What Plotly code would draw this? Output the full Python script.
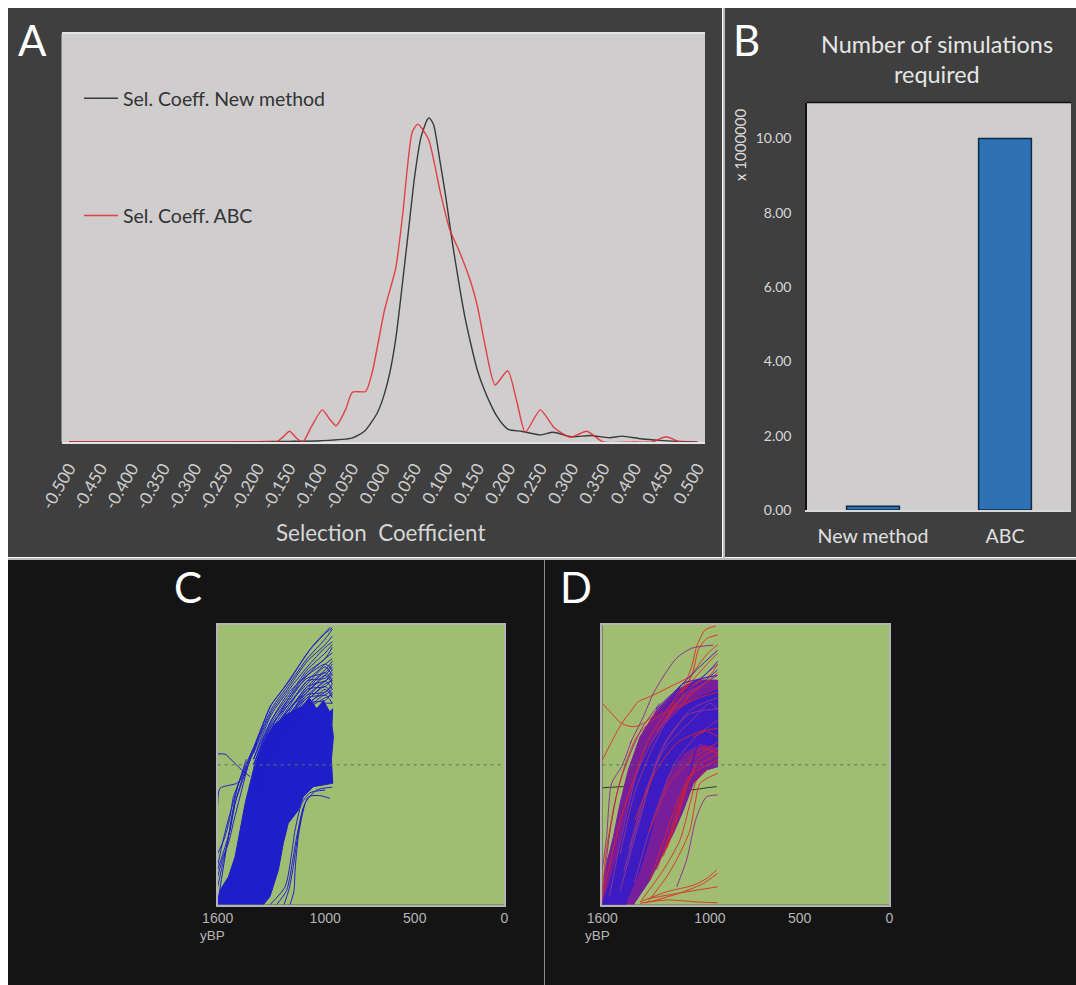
import plotly.graph_objects as go

# ---------- Panel A: density curves ----------
TICK_VALUES = [-0.5, -0.45, -0.4, -0.35, -0.3, -0.25, -0.2, -0.15, -0.1, -0.05, 0.0,
               0.05, 0.1, 0.15, 0.2, 0.25, 0.3, 0.35, 0.4, 0.45, 0.5]
NEW_X = [-0.5, -0.3, -0.2, -0.15, -0.1, -0.05, -0.03, -0.01, 0, 0.01, 0.02, 0.03, 0.04, 0.05, 0.06,
         0.07, 0.073, 0.08, 0.09, 0.1, 0.11, 0.12, 0.13, 0.14, 0.15, 0.16, 0.17, 0.18, 0.19, 0.2,
         0.22, 0.25, 0.27, 0.3, 0.33, 0.36, 0.38, 0.41, 0.44, 0.47, 0.5]
NEW_Y = [0, 0, 0.001, 0.002, 0.004, 0.012, 0.033, 0.088, 0.137, 0.21, 0.32, 0.48, 0.65, 0.82, 0.94,
         0.995, 1.0, 0.98, 0.87, 0.75, 0.615, 0.495, 0.385, 0.297, 0.22, 0.165, 0.12, 0.082, 0.055, 0.038,
         0.033, 0.022, 0.03, 0.016, 0.02, 0.013, 0.018, 0.01, 0.005, 0.002, 0]
ABC_X = [-0.5, -0.3, -0.18, -0.17, -0.16, -0.149, -0.138, -0.128, -0.115, -0.097, -0.085, -0.075, -0.06,
         -0.049, -0.028, -0.017, 0.002, 0.02, 0.031, 0.046, 0.055, 0.072, 0.091, 0.106, 0.12, 0.139, 0.15,
         0.161, 0.178, 0.198, 0.213, 0.226, 0.25, 0.272, 0.298, 0.324, 0.35, 0.4, 0.428, 0.45, 0.473, 0.5]
ABC_Y = [0, 0, 0, 0, 0.015, 0.033, 0.012, 0, 0.045, 0.099, 0.07, 0.05, 0.1,
         0.154, 0.156, 0.22, 0.407, 0.538, 0.703, 0.956, 0.981, 0.934, 0.769, 0.654, 0.593, 0.495, 0.418,
         0.308, 0.176, 0.22, 0.121, 0.03, 0.099, 0.044, 0.015, 0.033, 0, 0, 0, 0.016, 0, 0]

# ---------- Panel B: bars ----------
METHODS = ["New method", "ABC"]
SIMULATIONS = [0.1, 10.0]
SIM_TICKS = [0, 2, 4, 6, 8, 10]

# ---------- Panel C: trajectories (yBP, frequency) ----------
TIME_TICKS = [1600, 1000, 500, 0]
C_CORE_T = [1600, 1600, 1587, 1540, 1503, 1475, 1447, 1401, 1345, 1289, 1215, 1160, 1122, 1090, 1047, 1010, 975, 958, 962, 954, 965, 958,
            1066, 1122, 1150, 1206, 1234, 1261, 1308, 1345]
C_CORE_F = [0, 0.005, 0.052, 0.10, 0.172, 0.267, 0.362, 0.482, 0.577, 0.64, 0.68, 0.70, 0.71, 0.74, 0.70, 0.73, 0.69, 0.70, 0.64, 0.60, 0.52, 0.434,
            0.422, 0.386, 0.338, 0.291, 0.219, 0.124, 0.029, 0]
C_FAN_T = [1400, 1300, 1200, 1100, 1000, 960]
C_FAN = [
    [.56, .715, .80, .90, .97, .99], [.55, .70, .79, .88, .95, .985], [.54, .69, .78, .87, .93, .96],
    [.52, .68, .77, .85, .92, .94], [.52, .66, .75, .84, .90, .93], [.50, .65, .74, .83, .88, .92],
    [.50, .64, .73, .82, .88, .90], [.48, .64, .72, .80, .86, .88], [.47, .62, .70, .78, .84, .87],
    [.45, .60, .70, .76, .82, .85], [.44, .60, .68, .75, .80, .83], [.42, .58, .66, .73, .79, .80],
    [.40, .58, .66, .72, .76, .78], [.38, .56, .64, .70, .74, .75], [.36, .54, .64, .68, .72, .72],
    [.50, .66, .76, .82, .86, .84], [.49, .63, .74, .81, .83, .86], [.46, .62, .72, .79, .85, .82],
    [.45, .61, .71, .80, .81, .84], [.43, .60, .70, .77, .83, .80], [.44, .59, .69, .78, .80, .82],
    [.41, .59, .68, .76, .82, .79], [.40, .57, .67, .77, .78, .81], [.39, .57, .68, .74, .80, .77],
    [.38, .56, .66, .75, .76, .79], [.37, .55, .66, .73, .78, .75], [.37, .55, .65, .74, .75, .77],
    [.35, .54, .65, .71, .77, .74], [.34, .53, .63, .72, .73, .76], [.33, .52, .62, .70, .75, .72],
]
C_PATHS = [
    ([1600, 1540, 1494, 1420, 1364, 1308, 1252, 1150, 1066, 972], [.005, .243, .386, .529, .613, .708, .756, .851, .928, .992]),
    ([1600, 1559, 1513, 1466, 1420], [.539, .538, .511, .482, .458]),
    ([1600, 1587, 1494, 1457, 1420, 1373], [.356, .416, .434, .458, .517, .60]),
    ([1600, 1559, 1531, 1512, 1466, 1401], [.183, .243, .315, .386, .458, .553]),
    ([1600, 1531, 1503, 1447, 1382], [.124, .267, .362, .469, .577]),
    ([1600, 1540, 1522, 1484, 1401], [.064, .243, .315, .434, .56]),
    ([1196, 1174, 1168, 1150, 1122, 1094, 1029, 973], [0, .05, .124, .243, .338, .386, .39, .38]),
    ([1308, 1224, 1187, 1168, 1131, 1085, 1000], [0, .064, .184, .267, .362, .40, .41]),
    ([1271, 1215, 1181, 1159, 1113, 1047, 960], [0, .052, .16, .243, .362, .41, .42]),
    ([1230, 1200, 1175, 1150, 1120], [0, .06, .15, .26, .35]),
    ([1600, 1570, 1540, 1510, 1470, 1430], [.10, .17, .22, .30, .40, .50]),
    ([1600, 1580, 1555, 1525, 1490, 1440], [.14, .20, .27, .34, .42, .52]),
    ([1070, 1020, 960], [.43, .43, .45]),
    ([1060, 1010, 958], [.46, .47, .44]),
]

# ---------- Panel D: trajectories (yBP, frequency) ----------
D_WIDE_T = [1600, 1585, 1538, 1501, 1455, 1390, 1297, 1185, 1074, 957, 957, 1018, 1092, 1148, 1204, 1260, 1334, 1427]
D_WIDE_F = [0, .124, .243, .362, .482, .60, .696, .768, .803, .803, .493, .482, .434, .338, .255, .184, .088, 0]
D_CORE_T = [1600, 1566, 1511, 1473, 1427, 1353, 1260, 1148, 1055, 957, 957, 1055, 1148, 1241, 1297, 1334, 1390, 1473]
D_CORE_F = [0, .064, .184, .303, .422, .553, .636, .708, .744, .768, .565, .577, .541, .458, .338, .243, .124, 0]
D_DARK = [([1600, 1483, 1300, 1111, 1018, 962], [.418, .422, .42, .41, .418, .422])]
D_RED = [
    ([1600, 1500, 1334, 1148, 1102, 1074, 1027, 968], [.02, .30, .60, .78, .851, .923, .982, .996]),
    ([1300, 1150, 1092, 1065, 1018, 957], [.62, .75, .839, .911, .952, .964]),
    ([1250, 1120, 1060, 1010, 957], [.66, .80, .86, .90, .93]),
    ([1200, 1100, 1030, 957], [.72, .80, .85, .90]),
    ([1600, 1538, 1492, 1436, 1399, 1334, 1204, 1111], [.517, .595, .648, .696, .726, .744, .785, .815]),
    ([1600, 1548, 1492, 1427, 1371, 1278], [.72, .684, .648, .636, .648, .696]),
    ([1390, 1241, 1092, 1018, 962], [.01, .046, .07, .094, .124]),
    ([1334, 1148, 1037, 957], [.01, .046, .076, .112]),
    ([1334, 1185, 1074, 957], [.023, .04, .052, .064]),
    ([1390, 1241, 1074, 957], [.005, .017, .01, .007]),
    ([1353, 1241, 1167, 1111, 1083, 1055, 957], [.005, .10, .184, .267, .362, .434, .47]),
    ([1380, 1260, 1167, 1111, 1074, 1018], [.017, .124, .231, .362, .445, .482]),
    ([1334, 1250, 1185, 1111], [.088, .243, .362, .469]),
    ([1297, 1223, 1158, 1092, 957], [.124, .255, .386, .469, .517]),
    ([1260, 1195, 1139, 1074, 957], [.172, .291, .41, .494, .536]),
    ([1240, 1170, 1120, 1060, 957], [.20, .33, .44, .52, .56]),
    ([1600, 1576, 1529, 1473, 1408, 1320, 1200, 1060, 957], [.05, .20, .37, .50, .60, .66, .70, .74, .76]),
    ([1420, 1300, 1180, 1050, 957], [.30, .48, .58, .62, .63]),
    ([1340, 1220, 1100, 957], [.26, .44, .52, .58]),
    ([1150, 1060, 1000, 957], [.72, .80, .82, .86]),
    ([1180, 1090, 1010, 957], [.70, .76, .80, .83]),
    ([1090, 1020, 957], [.60, .62, .60]),
    ([1120, 1040, 957], [.52, .56, .54]),
]
D_PURPLE = [
    ([1445, 1371, 1315, 1187, 1102, 981], [.577, .672, .756, .881, .917, .928]),
    ([1185, 1130, 1074, 1018, 957], [.064, .16, .315, .386, .392]),
    ([1600, 1576, 1548, 1492, 1436], [.125, .243, .434, .494, .589]),
    ([1600, 1560, 1510, 1450, 1380, 1280], [.02, .25, .42, .53, .63, .72]),
    ([1560, 1500, 1400, 1250, 1100, 957], [.03, .22, .48, .66, .78, .86]),
    ([1480, 1380, 1250, 1100, 957], [.12, .34, .58, .70, .74]),
    ([1420, 1320, 1200, 1080, 957], [.08, .30, .50, .60, .66]),
    ([1500, 1400, 1280, 1120, 957], [.05, .28, .54, .68, .70]),
    ([1500, 1420, 1320, 1180, 1060, 957], [.18, .40, .56, .72, .78, .82]),
    ([1450, 1350, 1250, 1100, 1000, 957], [.20, .42, .56, .66, .72, .70]),
]
D_BLUE = [
    ([1300, 1185, 1074, 957], [.70, .77, .84, .91]),
    ([1260, 1150, 1050, 957], [.69, .79, .81, .87]),
    ([1300, 1170, 1030, 957], [.68, .75, .80, .84]),
    ([1120, 1060, 957], [.46, .58, .68]),
    ([1200, 1080, 957], [.72, .80, .82]),
]

# ---------- Layout helpers ----------
W, H = 1076, 985
def fx(p): return p / W
def fy(p): return 1 - p / H

def group(paths):
    xs, ys = [], []
    for a, b in paths:
        xs += list(a) + [None]
        ys += list(b) + [None]
    return xs, ys

fig = go.Figure()

# Panel A
fig.add_trace(go.Scatter(x=NEW_X, y=NEW_Y, mode="lines", name="Sel. Coeff. New method", legendgroup="a", cliponaxis=False,
                         line=dict(color="#3a3a3a", width=1.4, shape="spline", smoothing=0.6)))
fig.add_trace(go.Scatter(x=ABC_X, y=ABC_Y, mode="lines", name="Sel. Coeff. ABC", legendgroup="b", cliponaxis=False,
                         opacity=0.85, line=dict(color="#e6282e", width=1.4, shape="spline", smoothing=0.6)))

# Panel B
fig.add_trace(go.Bar(x=METHODS, y=SIMULATIONS, xaxis="x2", yaxis="y2", width=0.4, showlegend=False,
                     marker=dict(color="#2e72b4", line=dict(color="#0e2a46", width=1.5))))

BLUE = "#1f1fc9"
def lines(paths, color, xa, ya, width=1.0, opacity=1.0):
    xs, ys = group(paths)
    fig.add_trace(go.Scatter(x=xs, y=ys, xaxis=xa, yaxis=ya, mode="lines", showlegend=False, opacity=opacity,
                             line=dict(color=color, width=width, shape="spline", smoothing=0.7)))
def blob(t, f, color, xa, ya):
    fig.add_trace(go.Scatter(x=t, y=f, xaxis=xa, yaxis=ya, mode="lines", fill="toself", fillcolor=color,
                             showlegend=False, line=dict(color=color, width=1)))
def midline(xa, ya):
    fig.add_trace(go.Scatter(x=[1600, 0], y=[0.5, 0.5], xaxis=xa, yaxis=ya, mode="lines", showlegend=False,
                             line=dict(color="#5f6f60", width=1, dash="3px,4px")))

# Panel C
blob(C_CORE_T, C_CORE_F, BLUE, "x3", "y3")
lines([(C_FAN_T, v) for v in C_FAN], BLUE, "x3", "y3")
lines(C_PATHS, BLUE, "x3", "y3")
midline("x3", "y3")

# Panel D
lines(D_DARK, "#2c3a2c", "x4", "y4")
blob(D_WIDE_T, D_WIDE_F, "#7a1f9c", "x4", "y4")
blob(D_CORE_T, D_CORE_F, "#3c1cc4", "x4", "y4")
lines(D_PURPLE, "#8e3590", "x4", "y4")
lines(D_RED, "#e4231f", "x4", "y4", opacity=0.85)
lines(D_BLUE, "#3c1cc4", "x4", "y4")
midline("x4", "y4")

shapes = []
def rect(x0, y0, x1, y1, color):
    shapes.append(dict(type="rect", xref="paper", yref="paper", x0=fx(x0), x1=fx(x1), y0=fy(y1), y1=fy(y0),
                       fillcolor=color, line=dict(width=0), layer="below"))
rect(8, 8, 722, 557, "#3f3f3f")
rect(725, 8, 1076, 557, "#3f3f3f")
rect(8, 560, 1076, 985, "#141414")
rect(544, 560, 545, 985, "#8a8a8a")
rect(8, 558, 1076, 560, "#b9b9b9")
rect(723, 8, 725, 558, "#b9b9b9")
rect(61.5, 34, 705, 442, "#cfcdcd")
rect(807, 102.5, 1071, 510, "#cfcdcd")
rect(217.7, 625, 504.3, 904.7, "#a0be72")
rect(602.3, 625, 889.3, 904.7, "#a0be72")
# panel B upper frame line
shapes.append(dict(type="line", xref="paper", yref="paper", x0=fx(807), x1=fx(1071), y0=fy(102.5), y1=fy(102.5),
                   line=dict(color="#111111", width=1.5)))

def text(x, y, s, size, color, font="Lato", angle=0, xanchor="center"):
    return dict(x=fx(x), y=fy(y), xref="paper", yref="paper", text=s, showarrow=False, textangle=angle,
                xanchor=xanchor, yanchor="middle", font=dict(family=font, size=size, color=color))

annotations = [
    text(32, 40, "A", 42, "#ffffff"), text(746, 40, "B", 42, "#ffffff"),
    text(188, 587, "C", 42, "#ffffff"), text(576, 587, "D", 42, "#ffffff"),
    text(380, 532, "Selection  Coefficient", 22.4, "#d6d6d6"),
    text(937, 44, "Number of simulations", 23.4, "#e6e6e6"),
    text(937, 74, "required", 23.4, "#e6e6e6"),
    text(740, 145, "x 1000000", 15, "#dddddd", angle=-90),
    text(212, 935, "yBP", 13.5, "#b5b5b5", font="Liberation Sans"),
    text(597, 935, "yBP", 13.5, "#b5b5b5", font="Liberation Sans"),
]

time_axis = dict(range=[1600, 0], tickmode="array", tickvals=TIME_TICKS, ticks="", showgrid=False, zeroline=False,
                 showline=True, mirror=True, linecolor="#b4b4b4", linewidth=1.5,
                 tickfont=dict(family="Liberation Sans", size=14, color="#b5b5b5"))
freq_axis = dict(range=[0, 1], showticklabels=False, ticks="", showgrid=False, zeroline=False,
                 showline=True, mirror=True, linecolor="#b4b4b4", linewidth=1.5)

fig.update_layout(
    width=W, height=H, autosize=False, margin=dict(l=0, r=0, t=0, b=0, autoexpand=False),
    paper_bgcolor="#ffffff", plot_bgcolor="rgba(0,0,0,0)",
    shapes=shapes, annotations=annotations, bargap=0.6, hovermode=False,
    legend=dict(x=fx(79), y=fy(79), xanchor="left", yanchor="top", bgcolor="rgba(0,0,0,0)", itemwidth=34,
                tracegroupgap=89, font=dict(family="Lato", size=19.5, color="#333333"), traceorder="grouped"),
    xaxis=dict(domain=[fx(61.5), fx(705)], range=[-0.512, 0.512], tickmode="array", tickvals=TICK_VALUES,
               ticktext=[f"{v:.3f}" for v in TICK_VALUES], tickangle=-60, ticks="", showgrid=False, zeroline=False,
               showline=True, mirror=True, linecolor="#e4e4e4", linewidth=1.5, ticklabelstandoff=8, layer="below traces",
               tickfont=dict(family="Lato", size=17, color="#cfcfcf")),
    yaxis=dict(domain=[fy(442), fy(34)], range=[0, 1.259], visible=False),
    xaxis2=dict(domain=[fx(807), fx(1071)], anchor="y2", type="category", range=[-0.5, 1.5], ticks="", showgrid=False,
                showline=True, linecolor="#d9d9d9", linewidth=1.5, ticklabelstandoff=8,
                tickfont=dict(family="Lato", size=19.5, color="#e0e0e0")),
    yaxis2=dict(domain=[fy(510), fy(102.5)], anchor="x2", range=[0, 10.97], tickmode="array", tickvals=SIM_TICKS,
                tickformat=".2f", ticks="", showgrid=False, zeroline=False, showline=True, linecolor="#111111",
                linewidth=1.5, ticklabelstandoff=11, tickfont=dict(family="Lato", size=14, color="#d8d8d8")),
    xaxis3=dict(domain=[fx(217.7), fx(504.3)], anchor="y3", **time_axis),
    yaxis3=dict(domain=[fy(904.7), fy(625)], anchor="x3", **freq_axis),
    xaxis4=dict(domain=[fx(602.3), fx(889.3)], anchor="y4", **time_axis),
    yaxis4=dict(domain=[fy(904.7), fy(625)], anchor="x4", **freq_axis),
)

fig.write_html("out.html", config=dict(displayModeBar=False),
               post_script="document.body.style.margin='0';document.body.style.overflow='hidden';")
